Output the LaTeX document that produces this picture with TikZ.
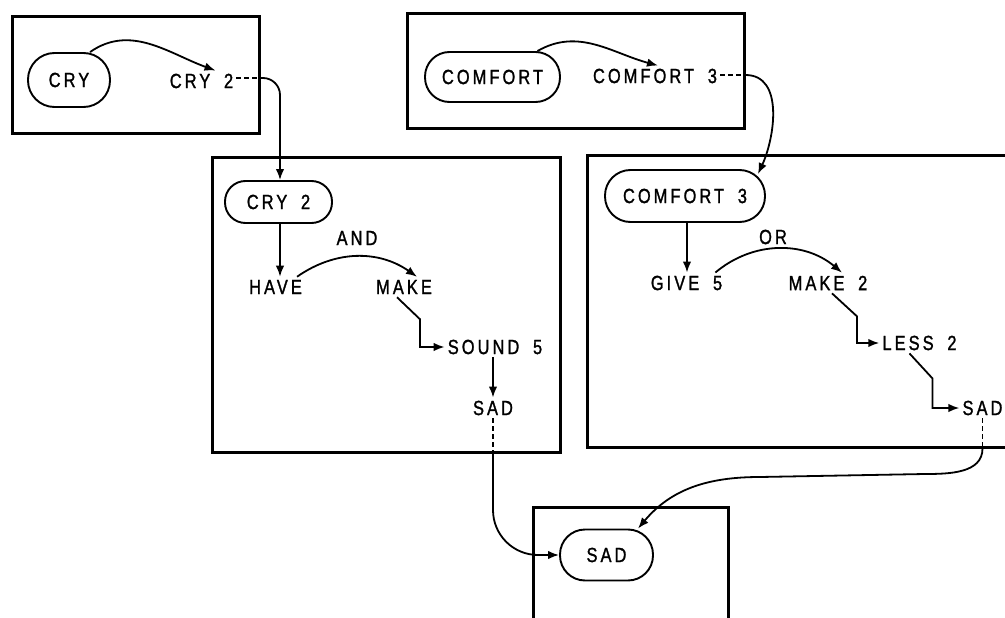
\documentclass[tikz,border=0pt]{standalone}
\usepackage{fontspec}
\setmainfont{Liberation Sans}[FakeStretch=0.8,LetterSpace=15,FakeBold=1.3,WordSpace=1.8]
\usetikzlibrary{arrows.meta,calc}
\begin{document}
\begin{tikzpicture}[x=1pt,y=-1pt,
  every node/.style={font=\fontsize{20.5}{24}\selectfont, inner sep=3pt},
  frame/.style={draw, rectangle, line width=3pt, inner sep=0pt},
  pill/.style={draw, rectangle, line width=1.9pt},
  conn/.style={line width=1.8pt, -{Latex[length=11pt,width=8.5pt]}},
  dashlink/.style={line width=1.8pt, dash pattern=on 5pt off 3pt}]
\useasboundingbox (0,0) rectangle (1005,618);

% frames
\node[frame, minimum width=247pt, minimum height=116pt] (f1) at (135.5,75) {};
\node[frame, minimum width=337pt, minimum height=114pt] (f2) at (575.5,71) {};
\node[frame, minimum width=348pt, minimum height=295pt] (f3) at (386,304.5) {};
\node[frame, minimum width=443pt, minimum height=292pt] (f4) at (808.5,301) {};
\node[frame, minimum width=195pt, minimum height=133pt] (f5) at (630.5,573.5) {};

% box 1
\node[pill, minimum width=82pt, minimum height=54pt, rounded corners=26.5pt] (cry) at (69,80) {CRY};
\node (cry2t) at (201.5,81) {CRY 2};
% box 2
\node[pill, minimum width=135pt, minimum height=50pt, rounded corners=24.5pt] (comfort) at (492.5,77) {COMFORT};
\node (comfort3t) at (655,76) {COMFORT 3};
% box 3
\node[pill, minimum width=107pt, minimum height=42pt, rounded corners=20.5pt] (cry2) at (278.5,202) {CRY 2};
\node (have) at (275.5,287) {HAVE};
\node (make) at (404,287) {MAKE};
\node (and) at (357,238) {AND};
\node (sound5) at (495,347) {SOUND 5};
\node (sad1) at (493,408) {SAD};
% box 4
\node[pill, minimum width=160pt, minimum height=52pt, rounded corners=25.5pt] (comfort3) at (685,196) {COMFORT 3};
\node (give5) at (686.5,283) {GIVE 5};
\node (make2) at (828,283) {MAKE 2};
\node (or) at (773,237) {OR};
\node (less2) at (919.5,343) {LESS 2};
\node (sad2) at (982.5,408) {SAD};
% box 5
\node[pill, minimum width=93pt, minimum height=51pt, rounded corners=25pt] (sad3) at (606.5,555) {SAD};

% helper coordinates on frame edges
\coordinate (b1r) at (f1.east |- 0,78);
\coordinate (b2r) at (f2.east |- 0,75);
\coordinate (b3b) at (sad1.south |- f3.south);
\coordinate (b4b) at (sad2.south |- f4.south);
\coordinate (w1) at (925,474);
\coordinate (w2) at (760,477);

% connectors
\draw[conn] (cry.53) to[out=35,in=160] ([xshift=14pt]cry2t.north);
\draw[dashlink] (cry2t.east |- b1r) -- (b1r);
\draw[conn, rounded corners=17pt] (b1r) -| ([xshift=1.5pt]cry2.north);

\draw[conn] (comfort.30) to[out=30,in=165] ([xshift=3pt]comfort3t.north);
\draw[dashlink] (comfort3t.east |- b2r) -- (b2r);
\draw[conn] (b2r) to[out=0,in=65] ([xshift=-8pt,yshift=-5pt]comfort3.north east);

\draw[conn] ([xshift=1.5pt]cry2.south) -- ([xshift=1.5pt]cry2.south |- have.north);
\draw[conn] ([xshift=-8pt]have.north east) to[out=35,in=145] ([xshift=13pt]make.north);
\draw[conn] ([xshift=-7pt]make.south) -- ++(23,22) |- (sound5.west);
\draw[conn] (sad1.north |- sound5.south) -- (sad1.north);
\draw[dashlink] (sad1.south) -- (b3b);
\draw[conn, rounded corners=45pt] (b3b) |- (sad3.west);

\draw[conn] ([xshift=2pt]comfort3.south) -- ([xshift=2pt]comfort3.south |- give5.north);
\draw[conn] ([xshift=-10pt]give5.north east) to[out=40,in=140] ([xshift=14pt]make2.north);
\draw[conn] ([xshift=4pt]make2.south) -- ++(25,23) |- (less2.west);
\draw[conn] ([xshift=-10pt]less2.south) -- ++(23,25) |- (sad2.west);
\draw[dashlink] (sad2.south) -- (b4b);
\draw[conn] (b4b) to[out=-90,in=0] (w1) -- (w2) to[out=180,in=50] (sad3.40);
\end{tikzpicture}
\end{document}
